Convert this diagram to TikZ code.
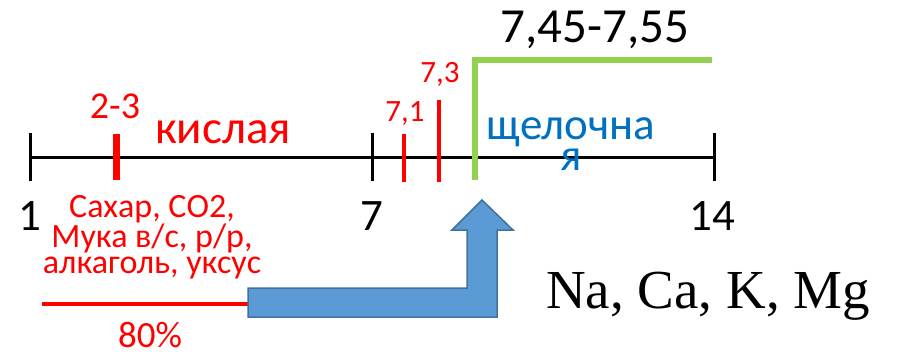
\documentclass[tikz,border=0pt]{standalone}
\usepackage{fontspec}
\setmainfont{Carlito}
\newfontfamily\timesf{Liberation Serif}
\definecolor{redc}{RGB}{255,0,0}
\definecolor{bluet}{RGB}{0,112,192}
\definecolor{greenl}{RGB}{146,208,80}
\definecolor{arrowfill}{RGB}{91,155,213}
\definecolor{arrowline}{RGB}{65,113,156}
\begin{document}
\begin{tikzpicture}[x=1pt,y=-1pt,
  lbl/.style={inner sep=0pt,anchor=base,align=center},
  axisline/.style={line width=3pt,black},
  redtick/.style={line width=4pt,redc},
  greenline/.style={line width=6pt,greenl}]
\useasboundingbox (0,0) rectangle (897,356);
% axis
\coordinate (a1) at (30,157);
\coordinate (a14) at (714,157);
\draw[axisline] (a1) -- (a14);
\draw[axisline] (30,133) -- (30,181);
\draw[axisline] (372,133) -- (372,181);
\draw[axisline] (714,133) -- (714,181);
% red ticks
\draw[redc,line width=7pt] (116,134) -- (116,180);
\draw[redtick] (404,134) -- (404,182);
\draw[redtick] (439,100) -- (439,182);
% green bracket
\draw[greenline] (475,180) -- (475,60) -- (712,60);
% labels
\node[lbl,font=\fontsize{49}{49}\selectfont] (range) at (595,42) {7,45-7,55};
\node[lbl,font=\fontsize{45}{45}\selectfont] (n1) at (30,230) {1};
\node[lbl,font=\fontsize{45}{45}\selectfont] (n7) at (372,230) {7};
\node[lbl,font=\fontsize{45}{45}\selectfont] (n14) at (712,230) {14};
\node[lbl,redc,font=\fontsize{38}{38}\selectfont] (t23) at (115,118) {2-3};
\node[lbl,redc,font=\fontsize{47}{47}\selectfont] (kisl) at (223,143) {кислая};
\node[lbl,redc,font=\fontsize{31}{31}\selectfont] (t71) at (405,121) {7,1};
\node[lbl,redc,font=\fontsize{31}{31}\selectfont] (t73) at (440,82) {7,3};
\node[lbl,bluet,font=\fontsize{45}{31}\selectfont] (shch) at (571,170) {щелочна\\я};
\node[lbl,redc,font=\fontsize{34}{25.5}\selectfont] (food) at (152,273) {Сахар, СО2,\\Мука в/с, р/р,\\алкаголь, уксус};
\node[lbl,redc,font=\fontsize{37}{37}\selectfont] (pct) at (150,347) {80\%};
\node[lbl,font=\timesf\fontsize{55}{55}\selectfont] (ions) at (708,308) {Na, Ca, K, Mg};
% red line
\coordinate (r0) at (42,304);
\coordinate (r1) at (248,304);
\draw[redc,line width=4pt] (r0) -- (r1);
% blue arrow
\draw[fill=arrowfill,draw=arrowline,line width=1.5pt,line join=miter]
  (248,288) -- (467,288) -- (467,230) -- (452,230) -- (482,200) -- (513,230)
  -- (497,230) -- (497,317) -- (248,317) -- cycle;
\end{tikzpicture}
\end{document}
